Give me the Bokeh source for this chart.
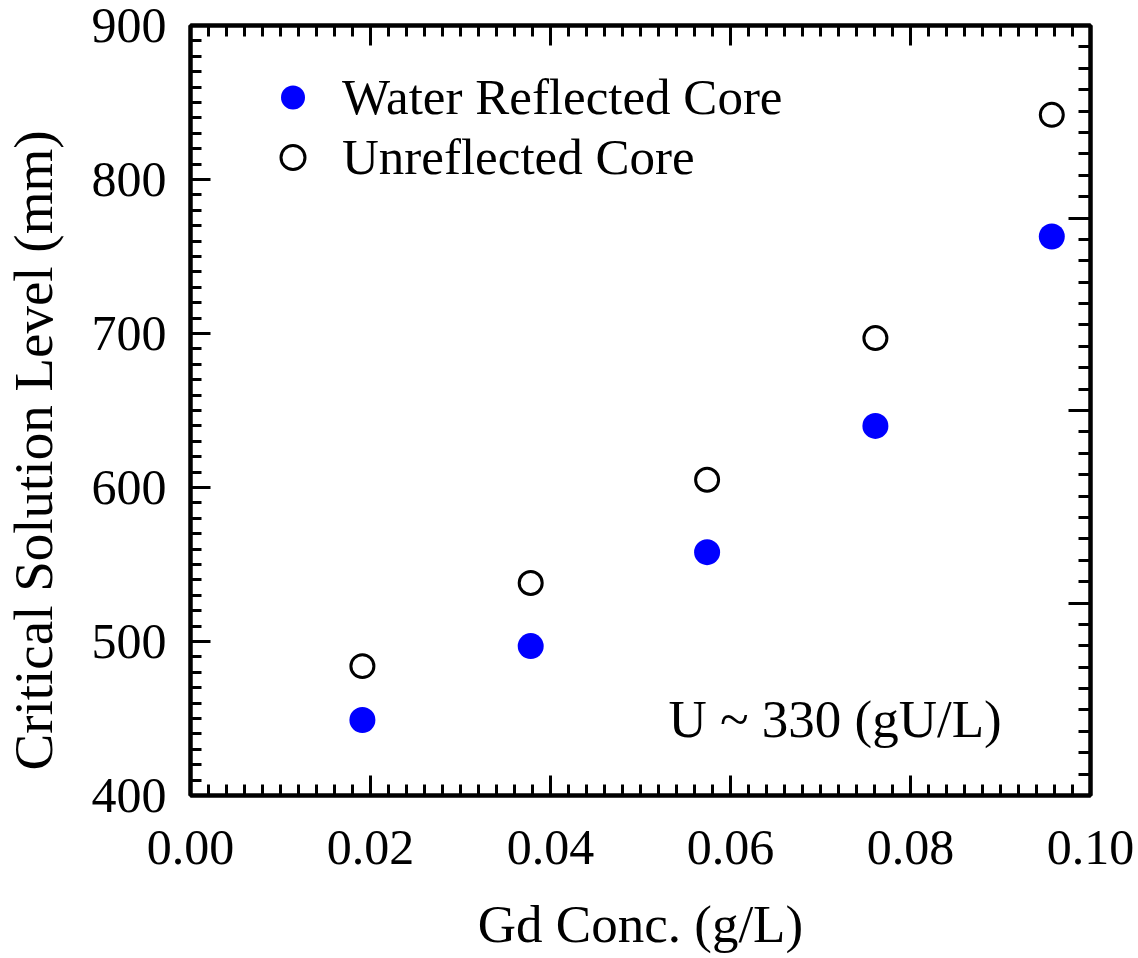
from bokeh.plotting import figure
from bokeh.models import (LinearAxis, Range1d, SingleIntervalTicker, PrintfTickFormatter,
                          Legend, LegendItem, Label, Title)
from bokeh.embed import file_html
from bokeh.resources import INLINE

# data
gd_conc = [0.0191, 0.0378, 0.0574, 0.0761, 0.0957]
water_reflected = [449, 497, 558, 640, 763]
unreflected = [484, 538, 605, 697, 842]

FONT = "Liberation Serif"

p = figure(width=1138, height=958, output_backend="svg", toolbar_location=None,
           x_range=Range1d(0, 0.1), y_range=Range1d(400, 900),
           min_border_left=190, min_border_right=48, min_border_top=25, min_border_bottom=163,
           x_axis_label="Gd Conc. (g/L)")
p.grid.visible = False
p.outline_line_color = "black"
p.outline_line_width = 4
p.background_fill_color = "white"
p.border_fill_color = "white"

p.extra_y_ranges = {"r": Range1d(0, 4)}


def style(ax, tin, tmin, labels=True):
    ax.axis_line_width = 4
    ax.axis_line_color = "black"
    ax.major_tick_in = tin
    ax.major_tick_out = 0
    ax.minor_tick_in = tmin
    ax.minor_tick_out = 0
    ax.major_tick_line_width = 3
    ax.minor_tick_line_width = 3
    ax.major_tick_line_color = "black"
    ax.minor_tick_line_color = "black"
    ax.major_label_text_font = FONT
    ax.major_label_text_color = "black"
    ax.axis_label_text_font = FONT
    ax.axis_label_text_font_style = "normal"
    ax.axis_label_text_color = "black"
    if not labels:
        ax.major_label_text_color = None
        ax.major_label_text_font_size = "8px"
        ax.major_label_standoff = 0


xa = p.xaxis[0]
xa.ticker = SingleIntervalTicker(interval=0.02, num_minor_ticks=10)
xa.formatter = PrintfTickFormatter(format="%.2f")
style(xa, 20, 11)
xa.major_label_text_font_size = "50px"
xa.major_label_standoff = 35
xa.axis_label_text_font_size = "53px"
xa.axis_label_standoff = 28

ya = p.yaxis[0]
ya.ticker = SingleIntervalTicker(interval=100, num_minor_ticks=10)
style(ya, 20, 11)
ya.major_label_text_font_size = "50px"
ya.major_label_standoff = 24
# invisible spacer label: widens the left axis panel so the title sits further left
ya.axis_label = " "
ya.axis_label_text_font_size = "10px"
ya.axis_label_standoff = 10
ya.axis_label_text_color = None

top = LinearAxis(ticker=SingleIntervalTicker(interval=0.02, num_minor_ticks=10))
style(top, 20, 11, labels=False)
p.add_layout(top, "above")

right = LinearAxis(y_range_name="r", ticker=SingleIntervalTicker(interval=1, num_minor_ticks=9))
style(right, 22, 12, labels=False)
p.add_layout(right, "right")

ytitle = Title(text="Critical Solution Level (mm)", align="left", offset=25,
               vertical_align="middle", standoff=0, text_font=FONT,
               text_font_size="55px", text_font_style="normal", text_color="black")
p.add_layout(ytitle, "left")

r1 = p.scatter(gd_conc, water_reflected, size=26, marker="circle",
               fill_color="#0000ff", line_color="#0000ff", line_width=0)
r2 = p.scatter(gd_conc, unreflected, size=23, marker="circle",
               fill_color=None, line_color="black", line_width=3)

legend = Legend(items=[LegendItem(label="Water Reflected Core", renderers=[r1]),
                       LegendItem(label="Unreflected Core", renderers=[r2])],
                location=(70, 608), orientation="vertical",
                glyph_width=65, glyph_height=60, spacing=0, padding=0, margin=0,
                label_standoff=17, label_text_font=FONT, label_text_font_size="51px",
                label_text_color="black", border_line_color=None,
                background_fill_alpha=0)
p.add_layout(legend)

note = Label(x=0.0531, y=450, text="U ~ 330 (gU/L)", text_font=FONT,
             text_font_size="53px", text_color="black", text_baseline="alphabetic")
p.add_layout(note)

open("out.html", "w").write(file_html(p, INLINE))
